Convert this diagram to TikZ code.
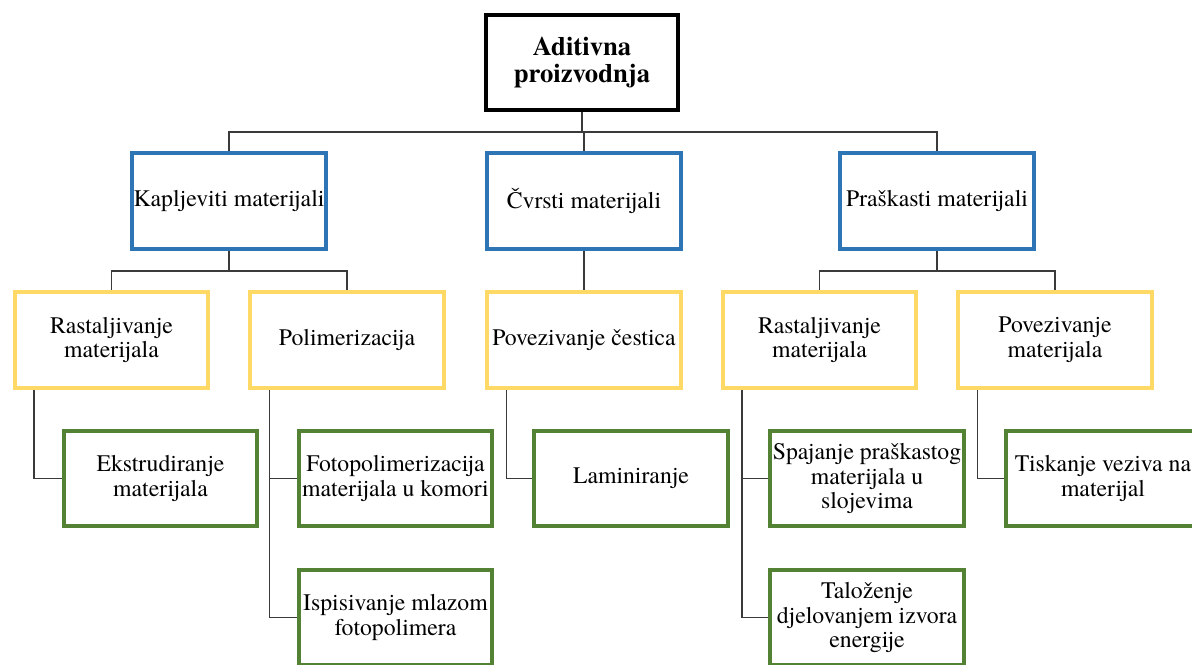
\documentclass[tikz,border=0pt]{standalone}
\usepackage{fontspec}
\setmainfont{TeX Gyre Termes}
\usetikzlibrary{calc,backgrounds}
\definecolor{boxblue}{HTML}{2E75B6}
\definecolor{boxyellow}{HTML}{FFD966}
\definecolor{boxgreen}{HTML}{548235}
\definecolor{conn}{HTML}{3A3A3A}
\begin{document}
\begin{tikzpicture}[x=0.75pt,y=-0.75pt,
  basebox/.style={rectangle, minimum width=145pt, minimum height=71.5pt, inner sep=1pt, align=center,
    font=\fontsize{17.8}{18.5}\selectfont},
  rootbox/.style={basebox, draw=black, line width=3pt, minimum width=144pt, minimum height=71pt,
    font=\bfseries\fontsize{20}{20.5}\selectfont},
  bluebox/.style={basebox, draw=boxblue, line width=2.8pt},
  yellowbox/.style={basebox, draw=boxyellow, line width=2.8pt},
  greenbox/.style={basebox, draw=boxgreen, line width=2.8pt},
  link/.style={draw=conn, line width=1pt}]
\useasboundingbox (0,0) rectangle (1192,664);

% level 0
\node[rootbox] (root) at (582,62.5) {Aditivna\\proizvodnja};
% level 1
\node[bluebox] (kap) at (229,201) {Kapljeviti materijali};
\node[bluebox] (cvr) at (584,201) {Čvrsti materijali};
\node[bluebox] (pra) at (937,201) {Praškasti materijali};
% level 2
\node[yellowbox] (ras1) at (111.5,340) {Rastaljivanje\\materijala};
\node[yellowbox] (pol) at (347,340) {Polimerizacija};
\node[yellowbox] (pce) at (584,340) {Povezivanje čestica};
\node[yellowbox] (ras2) at (819.5,340) {Rastaljivanje\\materijala};
\node[yellowbox] (pom) at (1055,340) {Povezivanje\\materijala};
% level 3
\node[greenbox] (ekst) at (160.5,478.5) {Ekstrudiranje\\materijala};
\node[greenbox] (foto) at (395.5,478.5) {Fotopolimerizacija\\materijala u komori};
\node[greenbox] (lam) at (631,478.5) {Laminiranje};
\node[greenbox] (spa) at (867,478.5) {Spajanje praškastog\\materijala u\\slojevima};
\node[greenbox] (tis) at (1103,478.5) {Tiskanje veziva na\\materijal};
\node[greenbox] (isp) at (395.5,617.5) {Ispisivanje mlazom\\fotopolimera};
\node[greenbox] (tal) at (867,617.5) {Taloženje\\djelovanjem izvora\\energije};

\begin{scope}[on background layer]
\fill[white] (0,0) rectangle (1192,664);
\coordinate (bus) at (0,132);
\draw[link] (root.south) -- (root.south |- bus);
\draw[link] (kap.north) -- (kap.north |- bus) -- (pra.north |- bus) -- (pra.north);
\draw[link] (cvr.north) -- (cvr.north |- bus);
\draw[link] (cvr.south) -- (pce.north);
\coordinate (busb) at (0,271);
\draw[link] (kap.south) -- (kap.south |- busb);
\draw[link] (ras1.north) -- (ras1.north |- busb) -- (pol.north |- busb) -- (pol.north);
\draw[link] (pra.south) -- (pra.south |- busb);
\draw[link] (ras2.north) -- (ras2.north |- busb) -- (pom.north |- busb) -- (pom.north);
% lower connectors
\coordinate (d1) at ($(ras1.south west)+(21,0)$);
\coordinate (d2) at ($(pol.south west)+(21,0)$);
\coordinate (d3) at ($(pce.south west)+(21,0)$);
\coordinate (d4) at ($(ras2.south west)+(21,0)$);
\coordinate (d5) at ($(pom.south west)+(21,0)$);
\draw[link] (d1) |- (ekst.west);
\draw[link] (d2) |- (isp.west);
\draw[link] (d2 |- foto.west) -- (foto.west);
\draw[link] (d3) |- (lam.west);
\draw[link] (d4) |- (tal.west);
\draw[link] (d4 |- spa.west) -- (spa.west);
\draw[link] (d5) |- (tis.west);
\end{scope}
\end{tikzpicture}
\end{document}
